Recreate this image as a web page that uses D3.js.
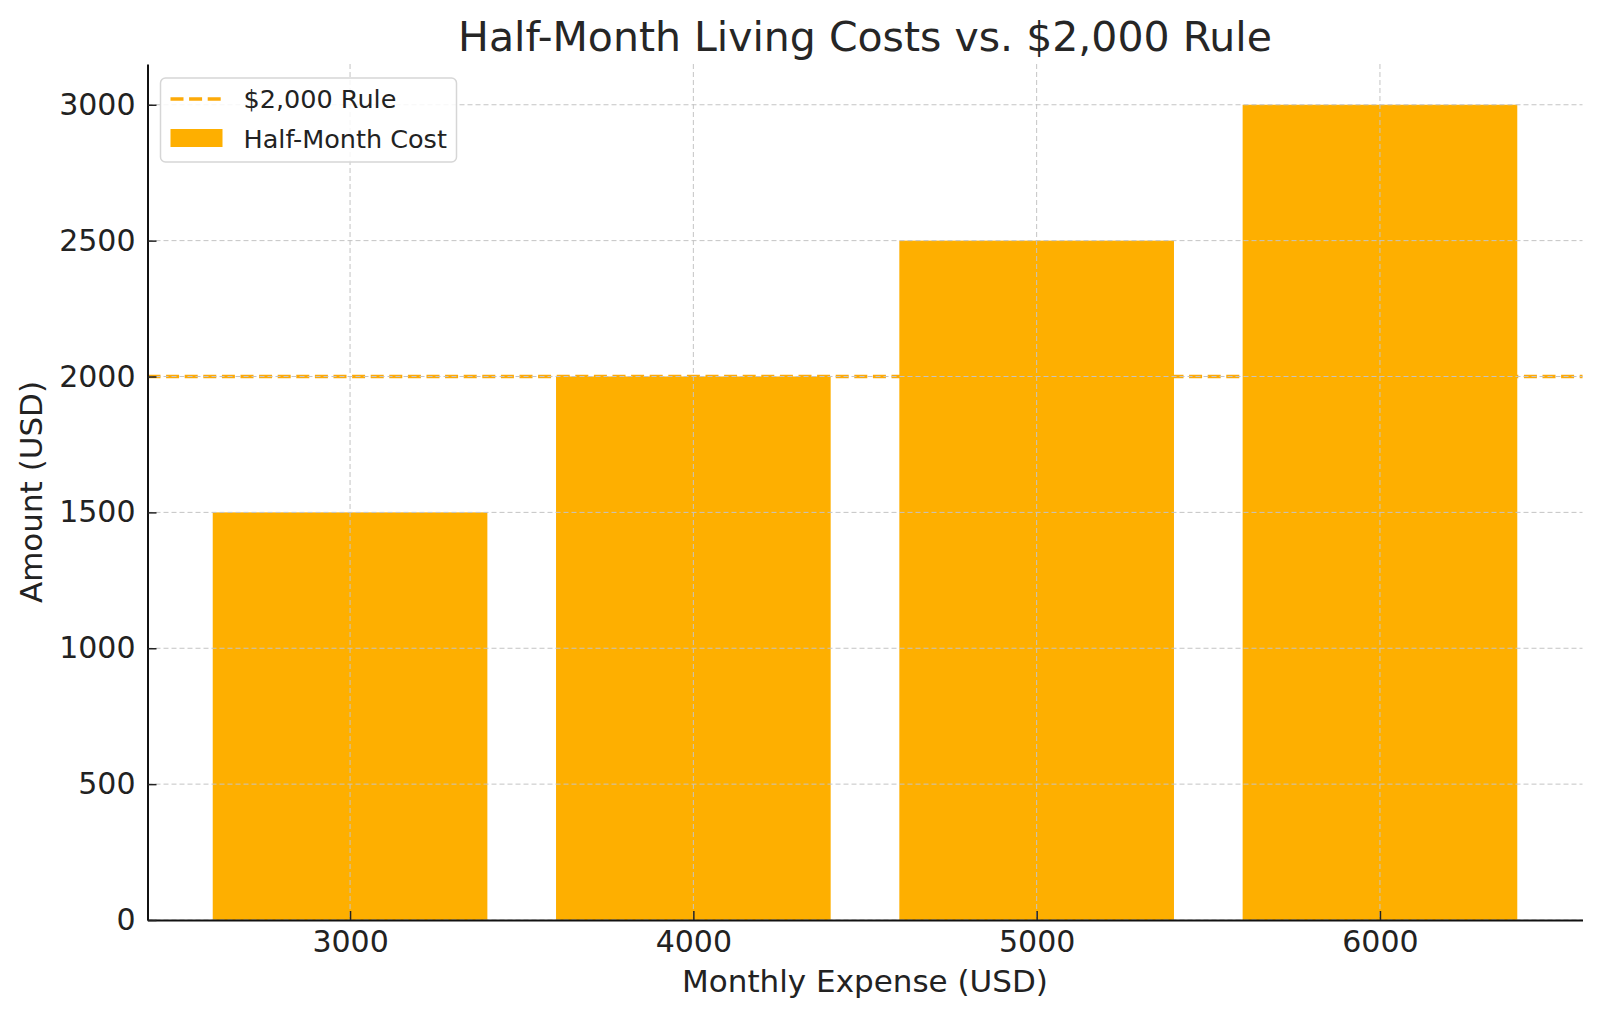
<!DOCTYPE html>
<html>
<head>
<meta charset="utf-8">
<script src="https://cdn.jsdelivr.net/npm/d3@7"></script>
<style>
  body { margin: 0; background: #fff; }
  svg { font-family: "DejaVu Sans", sans-serif; }
</style>
</head>
<body>
<svg id="chart"></svg>
<script>
// chart data
const monthlyExpense = [3000, 4000, 5000, 6000];
const halfMonthCost = [1500, 2000, 2500, 3000];
const ruleValue = 2000;
const yTicks = [0, 500, 1000, 1500, 2000, 2500, 3000];
const xTicks = [3000, 4000, 5000, 6000];

const W = 1600, H = 1019;
const margin = { top: 64, right: 17.5, bottom: 99, left: 147.5 };
const width = W - margin.left - margin.right,
      height = H - margin.top - margin.bottom;

const svg = d3.select("#chart").attr("width", W).attr("height", H);
const g = svg.append("g")
    .attr("transform", "translate(" + margin.left + "," + margin.top + ")");

const barWidth = 800;
const xScale = d3.scaleLinear()
    .domain([2410, 6590])
    .range([0, width]);
const yScale = d3.scaleLinear()
    .domain([0, 3150])
    .range([height, 0]);

const barColor = "#feaf00";
const ruleColor = "#fdaa08";

// $2,000 rule line (behind bars)
g.append("line")
    .attr("x1", 0).attr("x2", width)
    .attr("y1", yScale(ruleValue)).attr("y2", yScale(ruleValue))
    .attr("stroke", ruleColor)
    .attr("stroke-width", 3.5)
    .attr("stroke-dasharray", "13,5.6");

// bars
g.selectAll("rect.bar")
    .data(monthlyExpense)
    .enter().append("rect")
    .attr("class", "bar")
    .attr("x", (d) => xScale(d - barWidth / 2))
    .attr("width", (d) => xScale(d + barWidth / 2) - xScale(d - barWidth / 2))
    .attr("y", (d, i) => yScale(halfMonthCost[i]))
    .attr("height", (d, i) => height - yScale(halfMonthCost[i]))
    .attr("fill", barColor);

// grid on top
const gridColor = "#c4c4c4";
g.append("g").selectAll("line")
    .data(yTicks)
    .enter().append("line")
    .attr("x1", 0).attr("x2", width)
    .attr("y1", (d) => yScale(d)).attr("y2", (d) => yScale(d))
    .attr("stroke", gridColor)
    .attr("stroke-width", 1)
    .attr("stroke-dasharray", "5,3");
g.append("g").selectAll("line")
    .data(xTicks)
    .enter().append("line")
    .attr("x1", (d) => xScale(d)).attr("x2", (d) => xScale(d))
    .attr("y1", 0).attr("y2", height)
    .attr("stroke", gridColor)
    .attr("stroke-width", 1)
    .attr("stroke-dasharray", "5,3");

// axes, ticks pointing inward
const xAxis = g.append("g")
    .attr("transform", "translate(0," + height + ")")
    .call(d3.axisBottom(xScale).tickValues(xTicks).tickSizeInner(-9).tickSizeOuter(0).tickPadding(11).tickFormat(d3.format("d")));
const yAxis = g.append("g")
    .call(d3.axisLeft(yScale).tickValues(yTicks).tickSizeInner(-9).tickSizeOuter(0).tickPadding(12).tickFormat(d3.format("d")));

[xAxis, yAxis].forEach((ax) => {
    ax.selectAll("text").attr("font-size", 30).attr("fill", "#222").attr("font-family", "DejaVu Sans");
    ax.selectAll(".tick line").attr("stroke", "#222").attr("stroke-width", 1.5);
    ax.select(".domain").attr("stroke", "#111").attr("stroke-width", 2);
});

// title and labels
svg.append("text")
    .attr("x", margin.left + width / 2).attr("y", 51)
    .attr("text-anchor", "middle")
    .attr("font-size", 41)
    .attr("fill", "#262626")
    .text("Half-Month Living Costs vs. $2,000 Rule");

svg.append("text")
    .attr("x", margin.left + width / 2).attr("y", 992)
    .attr("text-anchor", "middle")
    .attr("font-size", 31)
    .attr("fill", "#222")
    .text("Monthly Expense (USD)");

svg.append("text")
    .attr("transform", "translate(42," + (margin.top + height / 2) + ") rotate(-90)")
    .attr("text-anchor", "middle")
    .attr("font-size", 31)
    .attr("fill", "#222")
    .text("Amount (USD)");

// legend
const legend = g.append("g").attr("transform", "translate(13,14)");
legend.append("rect")
    .attr("width", 296).attr("height", 84)
    .attr("rx", 5)
    .attr("fill", "rgba(255,255,255,0.85)")
    .attr("stroke", "#d6d6d6")
    .attr("stroke-width", 1.5);
legend.append("line")
    .attr("x1", 10).attr("x2", 62).attr("y1", 21).attr("y2", 21)
    .attr("stroke", ruleColor).attr("stroke-width", 3.5).attr("stroke-dasharray", "13,5.6");
legend.append("rect")
    .attr("x", 10).attr("y", 51).attr("width", 52).attr("height", 18)
    .attr("fill", barColor);
legend.append("text")
    .attr("x", 83).attr("y", 30).attr("font-size", 25.5).attr("fill", "#222")
    .text("$2,000 Rule");
legend.append("text")
    .attr("x", 83).attr("y", 70).attr("font-size", 25.5).attr("fill", "#222")
    .text("Half-Month Cost");
</script>
</body>
</html>
